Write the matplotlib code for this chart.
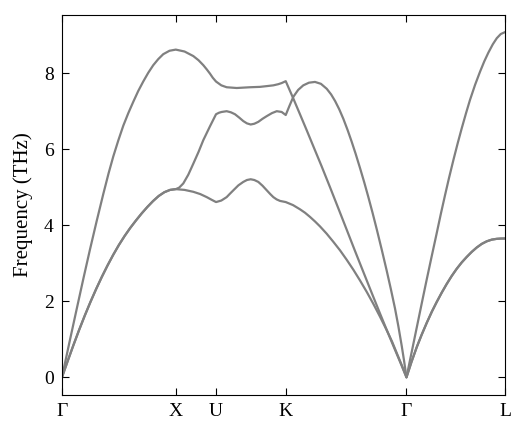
import matplotlib
matplotlib.use('Agg')
import matplotlib.pyplot as plt

plt.rcParams['font.family'] = ['Liberation Serif', 'DejaVu Serif']

# high-symmetry points along the FCC path (2pi/a units)
kpt_pos = [0.0, 1.0, 1.3536, 1.9659, 3.0266, 3.8926]
kpt_labels = ['Γ', 'X', 'U', 'K', 'Γ', 'L']

# Gamma-X: the two transverse branches are degenerate
k_gx_ta = [0.0, 0.05, 0.10, 0.15, 0.20, 0.25, 0.30, 0.35, 0.40, 0.45,
           0.50, 0.55, 0.60, 0.65, 0.70, 0.75, 0.80, 0.85, 0.90, 0.95, 1.0]
f_gx_ta = [0.0, 0.425, 0.84, 1.24, 1.62, 1.98, 2.32, 2.64, 2.94, 3.22,
           3.48, 3.715, 3.93, 4.125, 4.31, 4.48, 4.635, 4.77, 4.87, 4.93, 4.95]

# Gamma-L: transverse branches degenerate as well
k_gl_ta = [3.0266, 3.07, 3.117, 3.16, 3.205, 3.25, 3.292, 3.336, 3.380, 3.424, 3.468,
           3.512, 3.556, 3.60, 3.644, 3.688, 3.732, 3.776, 3.82, 3.856, 3.8926]
f_gl_ta = [0.0, 0.40, 0.795, 1.12, 1.435, 1.73, 1.98, 2.226, 2.455, 2.666, 2.855,
           3.022, 3.167, 3.30, 3.415, 3.51, 3.578, 3.622, 3.643, 3.65, 3.652]

# lower transverse branch, X-U-K-Gamma
k_low = [1.077, 1.154, 1.215, 1.272, 1.315, 1.3536,
         1.40, 1.447, 1.476, 1.506, 1.55, 1.593, 1.625, 1.658, 1.69, 1.725,
         1.762, 1.799, 1.83, 1.857, 1.886, 1.916, 1.9659,
         2.03, 2.091, 2.135, 2.179, 2.223, 2.267, 2.325, 2.384, 2.443, 2.502,
         2.56, 2.619, 2.678, 2.736, 2.795, 2.853, 2.90, 2.941, 2.985]
f_low = [4.93, 4.88, 4.82, 4.74, 4.67, 4.61,
         4.65, 4.74, 4.83, 4.92, 5.05, 5.14, 5.19, 5.21, 5.19, 5.14,
         5.04, 4.92, 4.82, 4.74, 4.68, 4.64, 4.61,
         4.53, 4.42, 4.33, 4.22, 4.10, 3.97, 3.78, 3.565, 3.34, 3.09,
         2.83, 2.545, 2.245, 1.93, 1.59, 1.24, 0.94, 0.64, 0.32]

# upper transverse branch, X-U-K-Gamma
k_mid = [1.03, 1.066, 1.11, 1.154, 1.20, 1.242, 1.30, 1.3536,
         1.38, 1.403, 1.447, 1.485, 1.520, 1.558, 1.593, 1.625, 1.658, 1.69,
         1.725, 1.762, 1.799, 1.845, 1.887, 1.930, 1.9659,
         2.0, 2.033, 2.075, 2.12, 2.17, 2.223, 2.275, 2.326, 2.365, 2.40,
         2.436, 2.472, 2.51, 2.545, 2.58, 2.619, 2.655, 2.69, 2.728, 2.765,
         2.81, 2.853, 2.89, 2.926, 2.955, 2.985, 3.005]
f_mid = [4.99, 5.10, 5.33, 5.62, 5.93, 6.24, 6.60, 6.92,
         6.96, 6.98, 7.00, 6.97, 6.92, 6.83, 6.74, 6.68, 6.65, 6.67,
         6.72, 6.80, 6.87, 6.95, 7.00, 6.98, 6.90,
         7.15, 7.38, 7.56, 7.68, 7.75, 7.77, 7.72, 7.59, 7.44, 7.265,
         7.05, 6.80, 6.50, 6.20, 5.88, 5.50, 5.135, 4.76, 4.335, 3.90,
         3.35, 2.805, 2.313, 1.81, 1.35, 0.825, 0.445]

# longitudinal branch over the whole path
k_top = [0.0, 0.065, 0.129, 0.19, 0.246, 0.305, 0.363, 0.41, 0.451, 0.495, 0.539,
         0.583, 0.627, 0.67, 0.714, 0.758, 0.802, 0.846, 0.89, 0.945, 1.0,
         1.077, 1.154, 1.20, 1.242, 1.272, 1.30, 1.325, 1.3536,
         1.40, 1.447, 1.535, 1.652, 1.74, 1.80, 1.857, 1.90, 1.93, 1.9659,
         2.033, 2.091, 2.15, 2.208, 2.28, 2.355, 2.43, 2.502, 2.575, 2.648,
         2.72, 2.794, 2.85, 2.911, 2.97, 3.0266,
         3.07, 3.12, 3.16, 3.20, 3.245, 3.29, 3.33, 3.366, 3.40, 3.44, 3.476,
         3.512, 3.55, 3.585, 3.63, 3.673, 3.71, 3.746, 3.785, 3.82, 3.855, 3.8926]
f_top = [0.0, 0.91, 1.79, 2.62, 3.36, 4.11, 4.82, 5.37, 5.81, 6.23, 6.62,
         6.95, 7.25, 7.53, 7.78, 8.01, 8.21, 8.37, 8.50, 8.59, 8.62,
         8.57, 8.45, 8.34, 8.21, 8.10, 7.99, 7.88, 7.78,
         7.68, 7.63, 7.61, 7.63, 7.64, 7.66, 7.68, 7.71, 7.74, 7.79,
         7.33, 6.92, 6.50, 6.08, 5.56, 5.00, 4.43, 3.88, 3.32, 2.77,
         2.23, 1.68, 1.27, 0.83, 0.41, 0.0,
         0.63, 1.355, 1.935, 2.51, 3.14, 3.76, 4.32, 4.80, 5.24, 5.73, 6.15,
         6.55, 6.95, 7.30, 7.70, 8.04, 8.31, 8.54, 8.76, 8.92, 9.03, 9.08]

bands = [
    (k_gx_ta + k_low + [3.0266] + k_gl_ta[1:], f_gx_ta + f_low + [0.0] + f_gl_ta[1:]),
    (k_gx_ta + k_mid + [3.0266] + k_gl_ta[1:], f_gx_ta + f_mid + [0.0] + f_gl_ta[1:]),
    (k_top, f_top),
]

fig = plt.figure(figsize=(5.25, 4.37), dpi=100)
ax = fig.add_axes([0.118, 0.096, 0.844, 0.870])

for k, f in bands:
    ax.plot(k, f, color='gray', lw=1.6, solid_joinstyle='round')

ax.set_xlim(kpt_pos[0], kpt_pos[-1])
ax.set_ylim(-0.466, 9.534)
ax.set_xticks(kpt_pos)
ax.set_xticklabels(kpt_labels)
ax.set_yticks([0, 2, 4, 6, 8])
ax.set_ylabel('Frequency (THz)', fontsize=15, labelpad=8)
ax.tick_params(direction='in', top=True, right=True, labelsize=14, length=5, pad=6)

fig.savefig('out.png', dpi=100)
